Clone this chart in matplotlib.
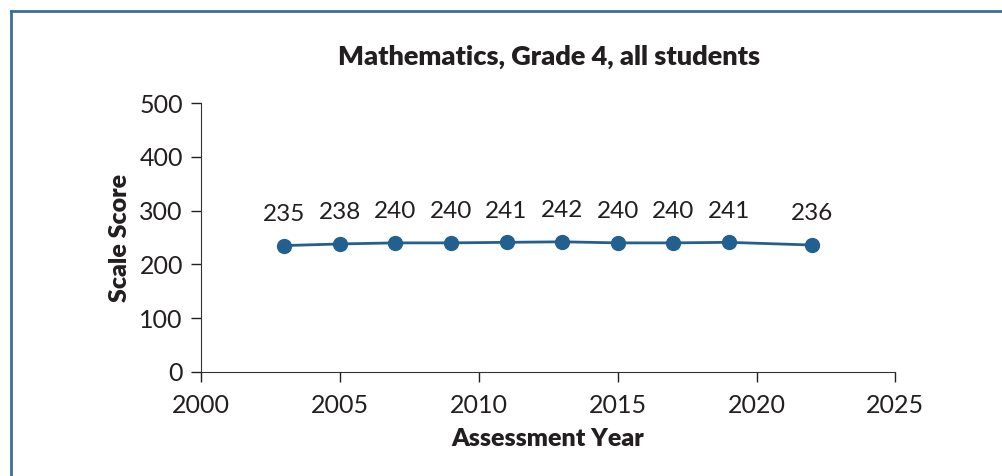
import matplotlib
matplotlib.use("Agg")
from matplotlib import pyplot as plt
from matplotlib.lines import Line2D

plt.rcParams['font.family'] = ['Lato', 'DejaVu Sans']

years = [2003, 2005, 2007, 2009, 2011, 2013, 2015, 2017, 2019, 2022]
scores = [235, 238, 240, 240, 241, 242, 240, 240, 241, 236]
x_ticks = [2000, 2005, 2010, 2015, 2020, 2025]
y_ticks = [0, 100, 200, 300, 400, 500]

line_col = '#22618f'
text_col = '#231f20'

fig = plt.figure(figsize=(10.02, 4.76), dpi=100)
ax = fig.add_axes([0.2006, 0.2185, 0.6930, 0.5651])

ax.plot(years, scores, color=line_col, linewidth=2.0, marker='o', markersize=10)
for x, y in zip(years, scores):
    ax.annotate(str(y), (x, y), xytext=(0, 15), textcoords='offset points',
                ha='center', va='bottom', fontsize=17.5, color=text_col)

ax.set_xlim(2000, 2025)
ax.set_ylim(0, 500)
ax.set_xticks(x_ticks)
ax.set_yticks(y_ticks)
ax.tick_params(labelsize=18, colors=text_col, length=7, width=1)
ax.tick_params(axis='x', pad=9)
ax.tick_params(axis='y', pad=6)
for s in ['top', 'right']:
    ax.spines[s].set_visible(False)
for s in ['left', 'bottom']:
    ax.spines[s].set_color('#333333')

ax.set_xlabel("Assessment Year", fontsize=18, fontweight='heavy', color=text_col, labelpad=8)
ax.set_ylabel("Scale Score", fontsize=18, fontweight='heavy', color=text_col, labelpad=6)
fig.text(0.548, 0.88, "Mathematics, Grade 4, all students", ha='center', va='center',
         fontsize=19.5, fontweight='heavy', color=text_col)

# frame round the figure (left and top only)
border = '#3b6e9c'
fig.add_artist(Line2D([0.0105, 0.0105], [0.0, 0.977], transform=fig.transFigure, color=border, linewidth=2))
fig.add_artist(Line2D([0.0105, 1.0], [0.977, 0.977], transform=fig.transFigure, color=border, linewidth=2))

fig.savefig("out.png", dpi=100)
